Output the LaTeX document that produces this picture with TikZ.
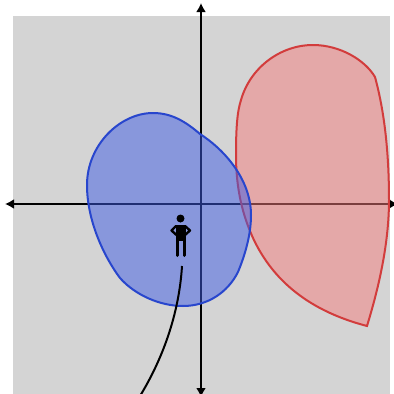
\documentclass[tikz,border=0pt]{standalone}
\usetikzlibrary{arrows.meta}
\definecolor{bggray}{RGB}{212,212,212}
\definecolor{bluefill}{RGB}{62,92,228}
\definecolor{blueline}{RGB}{40,70,205}
\definecolor{redfill}{RGB}{245,125,125}
\definecolor{redline}{RGB}{210,60,60}
\tikzset{
  axisline/.style={line width=2pt,black,{Latex[length=9pt,width=10pt]}-{Latex[length=9pt,width=10pt]}},
  blueblob/.style={fill=bluefill,fill opacity=.5,draw=blueline,line width=2pt},
  redblob/.style={fill=redfill,fill opacity=.5,draw=redline,line width=2pt,line join=miter},
  persona/.style={black,line width=2.4pt,line cap=round,line join=round},
}
\begin{document}
\begin{tikzpicture}[x=1pt,y=-1pt]
\useasboundingbox (0,0) rectangle (394,394);
\clip (0,0) rectangle (394,394);
\fill[white] (0,0) rectangle (394,394);
\fill[bggray] (13,16) rectangle (390,394);
\coordinate (top) at (201,3);
\coordinate (bot) at (201,397);
\coordinate (lft) at (5,204);
\coordinate (rgt) at (398,204);
\draw[axisline] (bot) -- (top);
\draw[axisline] (lft) -- (rgt);
% red
\draw[redblob] (375,77) .. controls (384,110) and (389,150) .. (389,200)
  .. controls (389,245) and (378,290) .. (367,326)
  .. controls (325,315) and (278,292) .. (253,238)
  .. controls (243,216) and (236,190) .. (236,155)
  .. controls (236,130) and (237,112) .. (241,100)
  .. controls (250,68) and (280,45) .. (313,45)
  .. controls (340,45) and (365,60) .. (375,77) -- cycle;
% blue
\draw[blueblob] (153,113) .. controls (172,113) and (186,122) .. (200,134)
  .. controls (225,150) and (251,180) .. (251,215)
  .. controls (251,235) and (245,255) .. (238,272)
  .. controls (228,292) and (208,306) .. (183,306)
  .. controls (160,306) and (135,295) .. (120,278)
  .. controls (105,258) and (87,222) .. (87,185)
  .. controls (87,145) and (120,113) .. (153,113) -- cycle;
% person
\fill[black] (180.5,218.5) circle (4);
\fill[black] (175.5,224.5) rectangle (186,241);
\draw[persona] (176,226) -- (171.5,230.5) -- (176.5,235);
\draw[persona] (185,226) -- (190,230.5) -- (185,235);
\draw[persona,line width=3pt] (177,239) -- (177,255.5);
\draw[persona,line width=3pt] (184,239) -- (184,255.5);
% tail
\coordinate (tailstart) at (182,266);
\coordinate (tailend) at (140,396);
\draw[black,line width=2pt] (tailstart) .. controls (179,315) and (162,360) .. (tailend);
\end{tikzpicture}
\end{document}
